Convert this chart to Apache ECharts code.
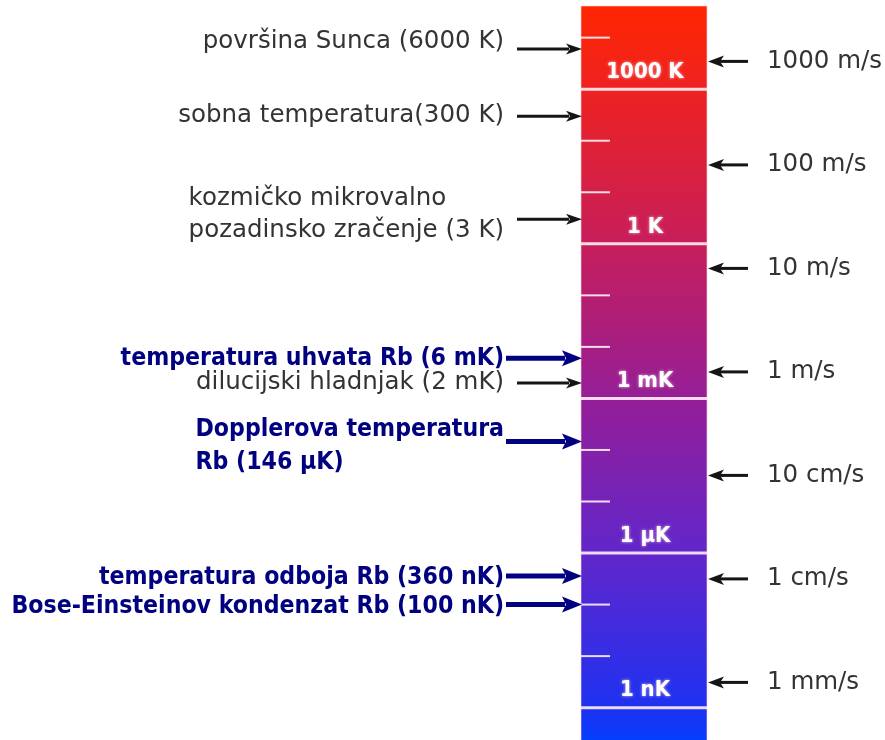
<!DOCTYPE html>
<html>
<head>
<meta charset="utf-8">
<script src="https://cdn.jsdelivr.net/npm/echarts@6/dist/echarts.min.js"></script>
<style>
html,body{margin:0;padding:0;background:#ffffff;}
#chart{width:885px;height:740px;}
</style>
</head>
<body>
<div id="chart"></div>
<script>
// ---------------- DATA ----------------
const tempLabels = [
  'površina Sunca (6000 K)',
  'sobna temperatura(300 K)',
  'kozmičko mikrovalno\npozadinsko zračenje (3 K)',
  'temperatura uhvata Rb (6 mK)',
  'dilucijski hladnjak (2 mK)',
  'Dopplerova temperatura\nRb (146 µK)',
  'temperatura odboja Rb (360 nK)',
  'Bose-Einsteinov kondenzat Rb (100 nK)'
];
const tempValues = [6000, 300, 3, 6e-3, 2e-3, 146e-6, 360e-9, 100e-9]; // kelvin
const tempIsRb = [false, false, false, true, false, true, true, true];

const scaleMarks = [1000, 1, 1e-3, 1e-6, 1e-9];          // kelvin
const scaleMarkLabels = ['1000 K', '1 K', '1 mK', '1 µK', '1 nK'];
const minorMarks = [1e4, 100, 10, 0.1, 0.01, 1e-4, 1e-5, 1e-7, 1e-8]; // kelvin

const speedValues = [1000, 100, 10, 1, 0.1, 0.01, 0.001];   // m/s
const speedLabels = ['1000 m/s', '100 m/s', '10 m/s', '1 m/s', '10 cm/s', '1 cm/s', '1 mm/s'];

// ---------------- LAYOUT / STYLE ----------------
const H = 740;
const T_PX_PER_DEC = 51.54, T_ZERO_PX = 243.8;      // temperature scale placement
const V_PX_PER_DEC = 103.5, V_ZERO_PX = 371.9;      // speed scale placement
const T_MAX = T_ZERO_PX / T_PX_PER_DEC, T_MIN = (T_ZERO_PX - H) / T_PX_PER_DEC;
const V_MAX = V_ZERO_PX / V_PX_PER_DEC, V_MIN = (V_ZERO_PX - H) / V_PX_PER_DEC;

const BAR_LEFT = 581, BAR_RIGHT = 707, BAR_TOP = 6;
const TEXT_RIGHT = 504;
const labelShift = [-7, 0, -5, 0, 0, 5, 2, 2];
const NAVY = '#000080', GRAY = '#333333', ARROW = '#151515';

const measureCtx = document.createElement('canvas').getContext('2d');
function measure(txt, font) { measureCtx.font = font; return measureCtx.measureText(txt).width; }

// use a condensed bold face if installed, otherwise the regular one at a smaller size
const hasCondensed = measure('temperatura uhvata', 'bold 24px "DejaVu Sans Condensed", monospace') !==
                     measure('temperatura uhvata', 'bold 24px monospace');
const FONT_GRAY = '24.5px "DejaVu Sans"';
const FONT_RB = hasCondensed ? 'bold 24.6px "DejaVu Sans Condensed"' : 'bold 22.4px "DejaVu Sans"';
const FONT_BAR = hasCondensed ? 'bold 22px "DejaVu Sans Condensed"' : 'bold 20px "DejaVu Sans"';

function renderTemp(params, api) {
  const i = api.value(2);
  const y = api.coord([0, api.value(1)])[1];
  const rb = tempIsRb[i];
  const color = rb ? NAVY : ARROW;
  const lw = rb ? 5 : 3;
  const x0 = rb ? 506 : 517;
  const tip = BAR_LEFT + 1;
  const headLen = rb ? 20 : 16, headHalf = rb ? 8 : 5.5;
  const font = rb ? FONT_RB : FONT_GRAY;
  const lines = tempLabels[i].split('\n');
  const w = Math.max.apply(null, lines.map(l => measure(l, font)));
  return {
    type: 'group',
    children: [
      { type: 'line', shape: { x1: x0, y1: y, x2: tip - headLen + 3, y2: y },
        style: { stroke: color, lineWidth: lw } },
      { type: 'polygon', shape: { points: [[tip, y], [tip - headLen, y - headHalf], [tip - headLen + 4, y], [tip - headLen, y + headHalf]] },
        style: { fill: color } },
      { type: 'text', x: TEXT_RIGHT - w, y: y + labelShift[i],
        style: { text: tempLabels[i], font: font, fill: rb ? NAVY : GRAY,
                 align: 'left', verticalAlign: 'middle', lineHeight: rb ? 33 : 32 } }
    ]
  };
}

function renderMajor(params, api) {
  const i = api.value(2);
  const y = api.coord([0, api.value(1)])[1];
  return {
    type: 'group',
    children: [
      { type: 'rect', shape: { x: BAR_LEFT, y: y - 1.5, width: BAR_RIGHT - BAR_LEFT, height: 3 },
        style: { fill: 'rgba(255,240,245,0.9)' } },
      { type: 'text', x: (BAR_LEFT + BAR_RIGHT) / 2 + 1, y: y - 17,
        style: { text: scaleMarkLabels[i], font: FONT_BAR, fill: '#ffffff',
                 align: 'center', verticalAlign: 'middle',
                 textShadowColor: 'rgba(255,230,240,0.8)', textShadowBlur: 3 } }
    ]
  };
}

function renderMinor(params, api) {
  const y = api.coord([0, api.value(1)])[1];
  return { type: 'line', shape: { x1: BAR_LEFT, y1: y, x2: BAR_LEFT + 29, y2: y },
           style: { stroke: 'rgba(255,240,245,0.9)', lineWidth: 2 } };
}

function renderSpeed(params, api) {
  const i = api.value(2);
  const y = api.coord([0, api.value(1)])[1];
  const tip = BAR_RIGHT + 1;
  return {
    type: 'group',
    children: [
      { type: 'line', shape: { x1: tip + 12, y1: y, x2: 748, y2: y }, style: { stroke: ARROW, lineWidth: 3 } },
      { type: 'polygon', shape: { points: [[tip, y], [tip + 16, y - 6], [tip + 12, y], [tip + 16, y + 6]] },
        style: { fill: ARROW } },
      { type: 'text', x: 767, y: y,
        style: { text: speedLabels[i], font: FONT_GRAY, fill: GRAY, align: 'left', verticalAlign: 'middle' } }
    ]
  };
}

const chart = echarts.init(document.getElementById('chart'), null, { renderer: 'canvas' });
chart.setOption({
  backgroundColor: '#ffffff',
  animation: false,
  grid: { left: 0, right: 0, top: 0, bottom: 0 },
  xAxis: { type: 'value', min: 0, max: 1, show: false },
  yAxis: [
    { type: 'value', min: T_MIN, max: T_MAX, show: false },
    { type: 'value', min: V_MIN, max: V_MAX, show: false }
  ],
  graphic: [{
    type: 'rect', z: 0,
    shape: { x: BAR_LEFT, y: BAR_TOP, width: BAR_RIGHT - BAR_LEFT, height: H - BAR_TOP + 5 },
    style: {
      fill: new echarts.graphic.LinearGradient(0, 0, 0, 1, [
        { offset: 0.00, color: 'rgb(255,38,0)' },
        { offset: 0.11, color: 'rgb(238,34,32)' },
        { offset: 0.325, color: 'rgb(198,30,92)' },
        { offset: 0.535, color: 'rgb(148,30,152)' },
        { offset: 0.745, color: 'rgb(96,38,204)' },
        { offset: 0.955, color: 'rgb(28,50,242)' },
        { offset: 1.00, color: 'rgb(0,64,255)' }
      ]),
      stroke: 'rgba(255,210,220,0.6)', lineWidth: 1
    }
  }],
  series: [
    { type: 'custom', name: 'minor', xAxisIndex: 0, yAxisIndex: 0, z: 3,
      data: minorMarks.map((t, i) => [0, Math.log10(t), i]), renderItem: renderMinor },
    { type: 'custom', name: 'major', xAxisIndex: 0, yAxisIndex: 0, z: 3,
      data: scaleMarks.map((t, i) => [0, Math.log10(t), i]), renderItem: renderMajor },
    { type: 'custom', name: 'temperature', xAxisIndex: 0, yAxisIndex: 0, z: 4,
      data: tempValues.map((t, i) => [0, Math.log10(t), i]), renderItem: renderTemp },
    { type: 'custom', name: 'speed', xAxisIndex: 0, yAxisIndex: 1, z: 4,
      data: speedValues.map((v, i) => [0, Math.log10(v), i]), renderItem: renderSpeed }
  ]
});
</script>
</body>
</html>
